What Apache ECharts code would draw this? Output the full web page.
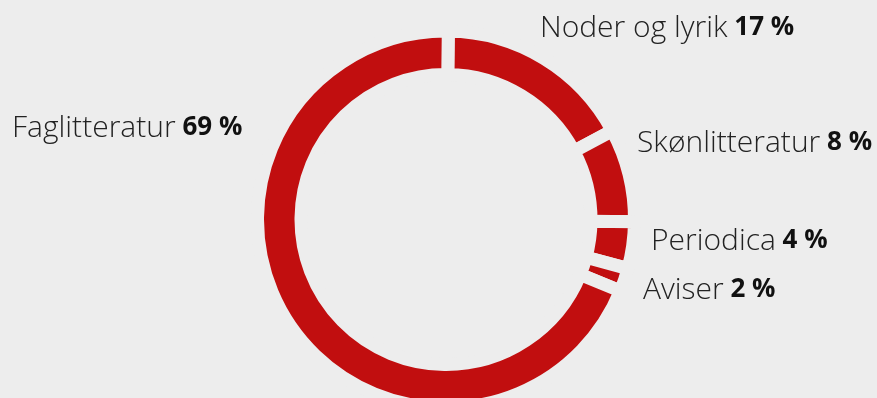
<!DOCTYPE html>
<html>
<head>
<meta charset="utf-8">
<script src="https://cdn.jsdelivr.net/npm/echarts@6/dist/echarts.min.js"></script>
<style>
html, body { margin: 0; padding: 0; background: #ededed; }
#chart { width: 877px; height: 398px; }
</style>
</head>
<body>
<div id="chart"></div>
<script>
// andel av samlingen, i prosent
var categories = ['Noder og lyrik', 'Skønlitteratur', 'Periodica', 'Aviser', 'Faglitteratur'];
var values = [17, 8, 4, 2, 69];

// hvor hver etikett står (venstre kant, midtlinje)
var labelPos = [
    [540, 28],
    [637, 143],
    [651, 241],
    [643, 290],
    [12, 128]
];

var chart = echarts.init(document.getElementById('chart'));

var pieData = categories.map(function (c, i) {
    return { name: c, value: values[i] };
});

var option = {
    backgroundColor: '#ededed',
    animation: false,
    series: [
        {
            type: 'pie',
            center: [446, 219.5],
            radius: [145, 188.5],
            startAngle: 89.3,
            clockwise: true,
            silent: true,
            data: pieData,
            itemStyle: {
                color: '#c10e0f',
                borderColor: '#ededed',
                borderWidth: 13
            },
            labelLine: { show: false },
            label: {
                show: true,
                position: 'outside',
                overflow: 'none',
                formatter: function (p) {
                    return '{n|' + p.name + '}{v|\u00a0' + p.value + ' %}';
                },
                rich: {
                    n: {
                        fontFamily: 'Open Sans',
                        fontWeight: 300,
                        fontSize: 30,
                        color: '#222'
                    },
                    v: {
                        fontFamily: 'Open Sans',
                        fontWeight: 'bold',
                        fontSize: 26,
                        color: '#111'
                    }
                }
            },
            labelLayout: function (params) {
                var p = labelPos[params.dataIndex];
                return { x: p[0], y: p[1], align: 'left', verticalAlign: 'middle' };
            }
        }
    ]
};

chart.setOption(option);
</script>
</body>
</html>
